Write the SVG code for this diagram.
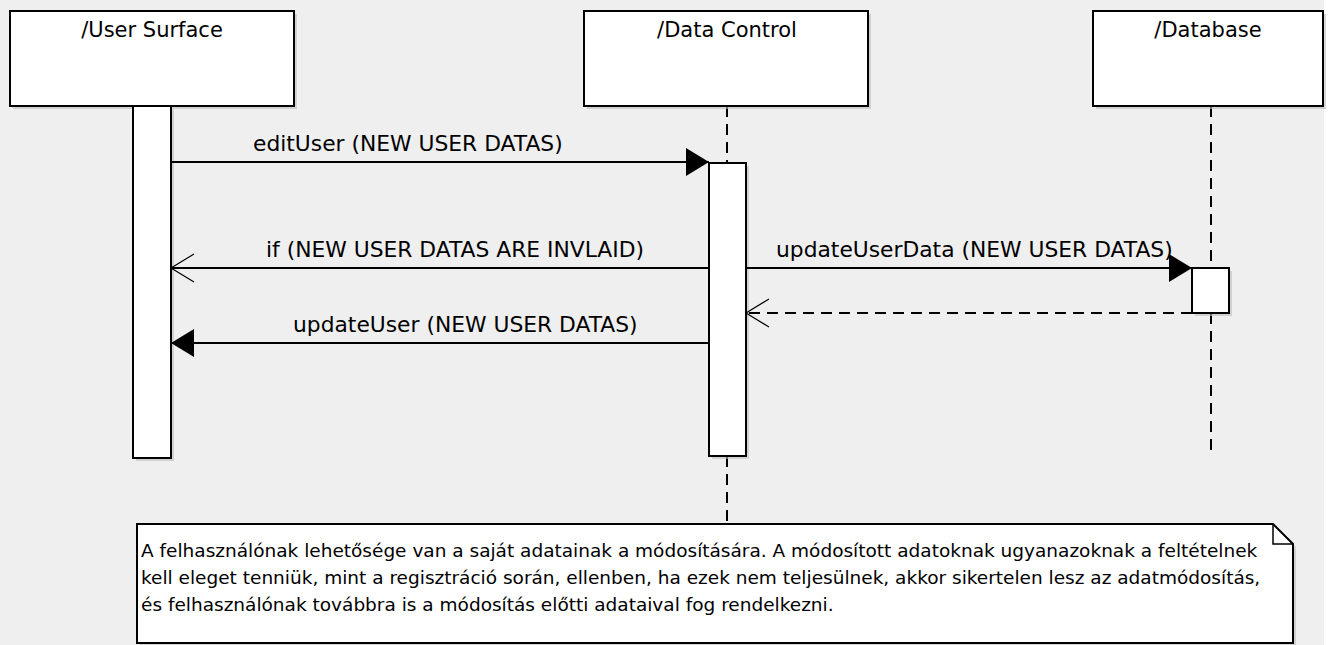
<svg xmlns="http://www.w3.org/2000/svg" width="1328" height="645" viewBox="0 0 1328 645">
<defs>
<style>
.box{fill:#fff;stroke:#000;stroke-width:2}
.sh{fill:#bdbdbd;opacity:0.6}
.lbl{font-family:"DejaVu Sans",sans-serif;font-size:21px;fill:#000}
.mlbl{font-family:"DejaVu Sans",sans-serif;font-size:21.8px;fill:#000}
.note{font-family:"DejaVu Sans",sans-serif;font-size:18.5px;fill:#000}
.msg{stroke:#000;stroke-width:2;fill:none}
.dash{stroke:#000;stroke-width:2;fill:none;stroke-dasharray:11 7}
.life{stroke:#000;stroke-width:2;fill:none;stroke-dasharray:11 7}
</style>
<marker id="filled" markerWidth="24" markerHeight="28" refX="23" refY="14" orient="auto" markerUnits="userSpaceOnUse">
<path d="M0,0 L23,14 L0,28 Z" fill="#000"/>
</marker>
<marker id="open" markerWidth="26" markerHeight="32" refX="24" refY="15" orient="auto" markerUnits="userSpaceOnUse">
<path d="M1,1 L24,15 L1,29" fill="none" stroke="#000" stroke-width="1.2"/>
</marker>
</defs>
<rect x="0" y="0" width="1324" height="645" fill="#efefef"/>

<g id="lifelines">
<line class="life" x1="727" y1="106" x2="727" y2="163"/>
<line class="life" x1="727" y1="456" x2="727" y2="524"/>
<line class="life" x1="1211" y1="106" x2="1211" y2="268"/>
<line class="life" x1="1211" y1="313" x2="1211" y2="455"/>
</g>

<g id="user-surface">
<rect class="sh" x="13" y="14" width="284" height="95"/>
<rect class="box" x="10" y="11" width="284" height="95"/>
<text class="lbl" x="152" y="37" text-anchor="middle">/User Surface</text>
<rect class="sh" x="136" y="109" width="38" height="352"/>
<rect class="box" x="133" y="106" width="38" height="352"/>
</g>

<g id="data-control">
<rect class="sh" x="587" y="14" width="284" height="95"/>
<rect class="box" x="584" y="11" width="284" height="95"/>
<text class="lbl" x="727" y="37" text-anchor="middle">/Data Control</text>
<rect class="sh" x="712" y="166" width="37" height="293"/>
<rect class="box" x="709" y="163" width="37" height="293"/>
</g>

<g id="database">
<rect class="sh" x="1096" y="14" width="230" height="95"/>
<rect class="box" x="1093" y="11" width="230" height="95"/>
<text class="lbl" x="1208" y="37" text-anchor="middle">/Database</text>
<rect class="sh" x="1195" y="271" width="37" height="45"/>
<rect class="box" x="1192" y="268" width="37" height="45"/>
</g>

<g id="connectors">
<line class="msg" x1="171" y1="162" x2="709" y2="162" marker-end="url(#filled)"/>
<text class="mlbl" x="253" y="151">editUser (NEW USER DATAS)</text>
<line class="msg" x1="709" y1="268" x2="171" y2="268" marker-end="url(#open)"/>
<text class="mlbl" x="266" y="257">if (NEW USER DATAS ARE INVLAID)</text>
<line class="msg" x1="746" y1="268" x2="1192" y2="268" marker-end="url(#filled)"/>
<text class="mlbl" x="776" y="257">updateUserData (NEW USER DATAS)</text>
<line class="dash" x1="1192" y1="313" x2="746" y2="313" marker-end="url(#open)"/>
<line class="msg" x1="709" y1="343" x2="171" y2="343" marker-end="url(#filled)"/>
<text class="mlbl" x="293" y="332">updateUser (NEW USER DATAS)</text>
</g>

<g id="note">
<path d="M140,527 L1276,527 L1296,547 L1296,646 L140,646 Z" class="sh"/>
<path d="M137,524 L1273,524 L1293,544 L1293,643 L137,643 Z" class="box"/>
<path d="M1273,524 L1273,544 L1293,544" fill="none" stroke="#000" stroke-width="1.5"/>
<text class="note" x="141" y="557">A felhasználónak lehetősége van a saját adatainak a módosítására. A módosított adatoknak ugyanazoknak a feltételnek</text>
<text class="note" x="141" y="584">kell eleget tenniük, mint a regisztráció során, ellenben, ha ezek nem teljesülnek, akkor sikertelen lesz az adatmódosítás,</text>
<text class="note" x="141" y="611">és felhasználónak továbbra is a módosítás előtti adataival fog rendelkezni.</text>
</g>
</svg>
